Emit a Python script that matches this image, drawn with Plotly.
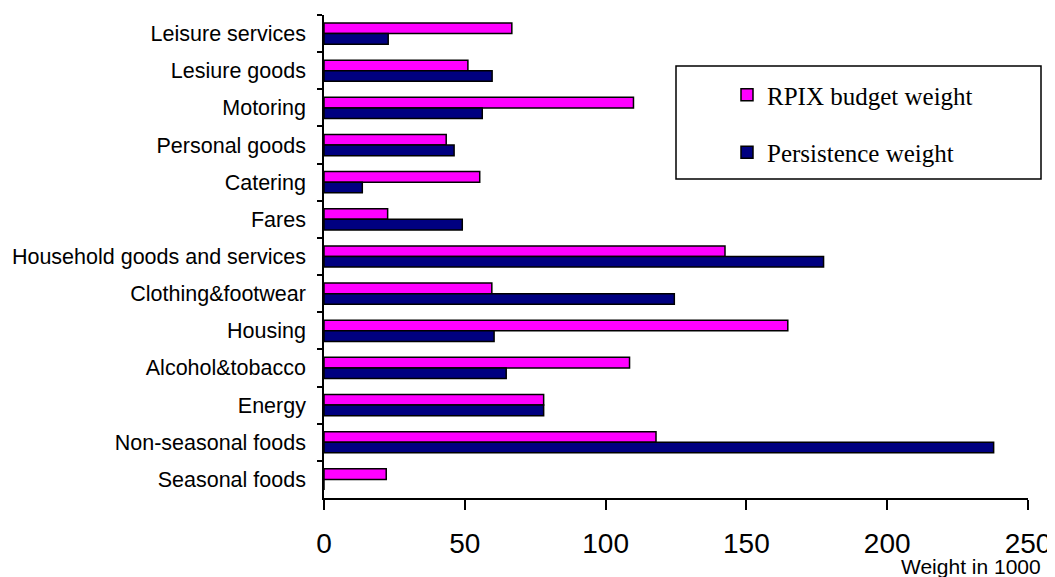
import plotly.graph_objects as go

categories = ["Leisure services", "Lesiure goods", "Motoring", "Personal goods", "Catering",
              "Fares", "Household goods and services", "Clothing&footwear", "Housing",
              "Alcohol&tobacco", "Energy", "Non-seasonal foods", "Seasonal foods"]
rpix_weight = [66.7, 51.1, 109.9, 43.4, 55.3, 22.6, 142.4, 59.6, 164.7, 108.5, 78.0, 117.9, 22.1]
persistence_weight = [22.8, 59.7, 56.2, 46.2, 13.6, 49.1, 177.4, 124.4, 60.4, 64.7, 78.0, 237.8, 0]
x_ticks = [0, 50, 100, 150, 200, 250]

# the page body has an 8px default margin; the figure starts at (8, 8) on screen
OFF = 8
W, H = 1055 - OFF, 577 - OFF
# screen-space plot area: x 324..1028, y 15..498
L, R, T, B = 324 - OFF, W - (1028 - OFF), 15 - OFF, H - (498 - OFF)
pw, ph = W - L - R, H - T - B

def px2x(sx):
    return (sx - OFF - L) / pw

def px2y(sy):
    return (H - B - (sy - OFF)) / ph

fig = go.Figure()
fig.add_trace(go.Bar(
    y=categories, x=rpix_weight, orientation="h", name="RPIX budget weight",
    marker=dict(color="#FF00FF", line=dict(color="black", width=1.5)),
    legendgroup="a"))
fig.add_trace(go.Bar(
    y=categories, x=persistence_weight, orientation="h", name="Persistence weight",
    marker=dict(color="#000080", line=dict(color="black", width=1.5)),
    legendgroup="b"))

fig.update_layout(
    width=W, height=H,
    margin=dict(l=L, r=R, t=T, b=B, pad=0, autoexpand=False),
    paper_bgcolor="white", plot_bgcolor="white",
    barmode="group", bargap=0.43, bargroupgap=0,
    font=dict(family="Liberation Sans, Arial", color="black"),
    showlegend=True,
    legend=dict(
        x=px2x(727), y=px2y(72), xanchor="left", yanchor="top",
        bgcolor="rgba(0,0,0,0)", borderwidth=0,
        font=dict(family="Liberation Serif, Times New Roman", size=25, color="black"),
        traceorder="grouped", tracegroupgap=22,
    ),
    xaxis=dict(
        range=[0, 250], tickvals=x_ticks, ticks="outside", ticklen=10, tickwidth=1.5,
        tickcolor="black", showline=True, linecolor="black", linewidth=1.5,
        showgrid=False, zeroline=False, tickfont=dict(size=28), automargin=False,
        ticklabelstandoff=10, fixedrange=True,
    ),
    yaxis=dict(
        autorange="reversed", type="category", ticks="outside", tickson="boundaries",
        ticklen=5, tickwidth=1.5, tickcolor="black", showline=True, linecolor="black",
        linewidth=1.5, showgrid=False, tickfont=dict(size=21.5), ticklabelstandoff=12,
        automargin=False,
    ),
    shapes=[dict(type="rect", xref="paper", yref="paper",
                 x0=px2x(676), x1=px2x(1041), y0=px2y(66), y1=px2y(179),
                 line=dict(color="black", width=1.5), fillcolor="rgba(0,0,0,0)")],
    annotations=[dict(text="Weight in 1000", xref="paper", yref="paper",
                      x=px2x(1043), y=px2y(566), xanchor="right", yanchor="middle",
                      showarrow=False, font=dict(size=21))],
)

fig.write_html("out.html")
